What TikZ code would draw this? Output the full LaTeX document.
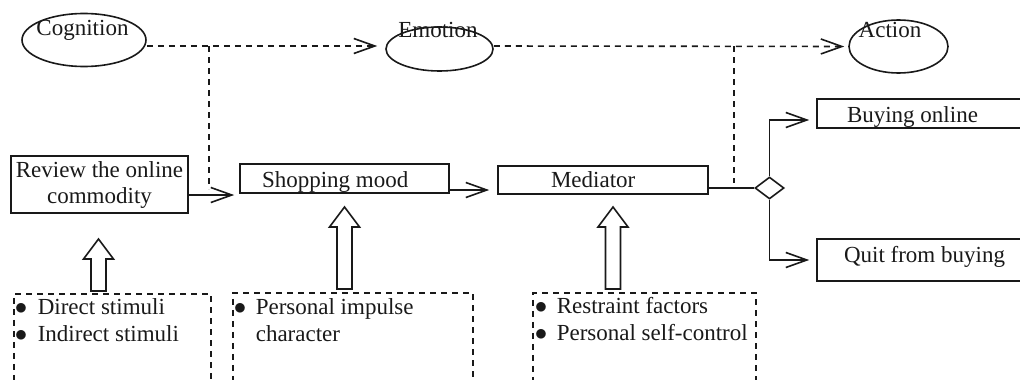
\documentclass[tikz,border=0pt]{standalone}
\usepackage{fontspec}
\setmainfont{Liberation Serif}
\usetikzlibrary{arrows.meta,shapes.geometric,calc}
\begin{document}
\begin{tikzpicture}[x=1pt,y=-1pt,
  font=\fontsize{23}{27}\selectfont,
  line width=1.6pt, color=black!90,
  ell/.style={draw,ellipse,inner sep=0pt},
  lbl/.style={inner sep=0pt, anchor=base},
  box/.style={draw, rectangle, inner sep=0pt},
  dashbox/.style={draw, dash pattern=on 6pt off 5pt, anchor=north west, inner sep=0pt},
  dline/.style={dash pattern=on 6pt off 5pt},
  barb/.style={-{Straight Barb[length=21pt,width=15pt,line width=1.6pt]}},
  bul/.style={anchor=north west, inner sep=0pt, align=left},
  pics/hollowup/.style={code={\draw[line width=1.6pt, solid] (-7.5,0) -- (-7.5,-#1+20) -- (-15,-#1+20) -- (0,-#1) -- (15,-#1+20) -- (7.5,-#1+20) -- (7.5,0) -- cycle;}}
]
\useasboundingbox (0,0) rectangle (1020,380);
\clip (0,0) rectangle (1020,380);

% top ellipses
\node[ell, minimum width=124pt, minimum height=53pt] (cog) at (84,40) {};
\node[lbl] (cogt) at ($(cog.center)+(-1.5,-5)$) {Cognition};
\node[ell, minimum width=107pt, minimum height=44pt] (emo) at (439.5,49) {};
\node[lbl] (emot) at ($(emo.center)+(-1.5,-12)$) {Emotion};
\node[ell, minimum width=99pt, minimum height=53pt] (act) at (898.5,46.5) {};
\node[lbl] (actt) at ($(act.center)+(-8.5,-9.5)$) {Action};

% main boxes
\node[box, align=center, minimum width=177pt, minimum height=57pt, font=\fontsize{23}{26}\selectfont] (rev) at (99.5,184.5) {Review the online\\commodity};
\node[box, minimum width=209pt, minimum height=29pt, text height=20pt, text depth=3pt] (sm) at (344.5,178.5) {\makebox[209pt][l]{\hspace*{22pt}Shopping mood}};
\node[box, minimum width=210pt, minimum height=28pt, text height=18pt, text depth=3pt] (med) at (603,180) {\makebox[210pt][l]{\hspace*{53pt}Mediator}};
\node[box, minimum width=213pt, minimum height=29pt, text height=20pt, text depth=3pt] (buy) at (923.5,113.5) {\makebox[213pt][l]{\hspace*{30pt}Buying online}};
\node[box, minimum width=213pt, minimum height=42pt, text height=12pt, text depth=8pt] (quit) at (923.5,260) {\makebox[213pt][l]{\hspace*{27pt}Quit from buying}};
\node[draw, diamond, inner sep=0pt, minimum width=29pt, minimum height=22pt] (dia) at (769.5,188) {};

% dashed factor boxes
\node[dashbox, minimum width=197pt, minimum height=130pt] (f1) at (13,293) {};
\node[dashbox, minimum width=240pt, minimum height=130pt] (f2) at (232,292) {};
\node[dashbox, minimum width=223pt, minimum height=130pt] (f3) at (532,292) {};
\node[bul] (t1) at ($(f1.north west)+(1,4)$) {\rule{0pt}{17pt}\makebox[23pt][l]{$\bullet$}Direct stimuli\\\makebox[23pt][l]{$\bullet$}Indirect stimuli};
\node[bul] (t2) at ($(f2.north west)+(1,5)$) {\rule{0pt}{17pt}\makebox[22pt][l]{$\bullet$}Personal impulse\\\hspace*{22pt}character};
\node[bul] (t3) at ($(f3.north west)+(2,4)$) {\rule{0pt}{17pt}\makebox[22pt][l]{$\bullet$}Restraint factors\\\makebox[22pt][l]{$\bullet$}Personal self-control};

% dashed flow
\draw[dline, barb] ([yshift=-6pt]cog.east) -- ([xshift=-8pt,yshift=3pt]emo.west);
\draw[dline, barb] ([yshift=3pt]emo.east) -- ([xshift=-4pt]act.west);
\coordinate (j1) at (209,46);
\coordinate (j1e) at (209,189);
\coordinate (j2) at (734,46);
\coordinate (j2e) at (734,183);
\draw[dline] (j1) -- (j1e);
\draw[dline] (j2) -- (j2e);

% solid flow
\draw[barb] ([yshift=-10.5pt]rev.east) -- ([xshift=-5pt,yshift=-16.5pt]sm.west);
\draw[barb] ([yshift=-11.5pt]sm.east) -- ([xshift=-8pt,yshift=-10pt]med.west);
\draw ([yshift=-8pt]med.east) -- (dia.west);
\draw[barb] (dia.north) |- ([xshift=-7pt,yshift=-6.5pt]buy.west);
\draw[barb] (dia.south) |- ([xshift=-7pt]quit.west);

% hollow arrows
\pic at ($(rev.south |- f1.north)+(-1,-2)$) {hollowup=52};
\pic at ($(sm.south |- f2.north)+(0,-3)$) {hollowup=82};
\pic at ($(med.south |- f3.north)+(10,-3)$) {hollowup=82};
\end{tikzpicture}
\end{document}
